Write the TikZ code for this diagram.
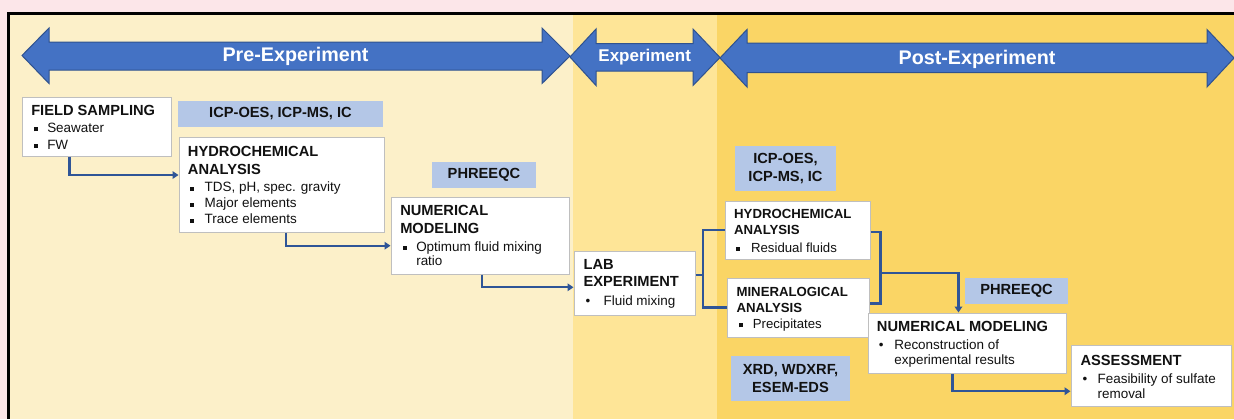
\documentclass[tikz,border=0pt]{standalone}
\usepackage{fontspec}
\setmainfont{Liberation Sans}
\usetikzlibrary{arrows.meta,fit,calc}
\definecolor{pinkbg}{HTML}{FCE6E9}
\definecolor{prec}{HTML}{FCF0C9}
\definecolor{expc}{HTML}{FEE597}
\definecolor{postc}{HTML}{FAD565}
\definecolor{arrfill}{HTML}{4472C4}
\definecolor{arrline}{HTML}{2F528F}
\definecolor{lblc}{HTML}{B4C7E7}
\definecolor{connc}{HTML}{2F5597}
\definecolor{boxline}{HTML}{BFBFBF}
\definecolor{txtc}{HTML}{111111}
\newcommand\ttl{\fontsize{11}{13}\selectfont\bfseries}
\newcommand\ttls{\fontsize{9.9}{12}\selectfont\bfseries}
\newcommand\bdy{\fontsize{10.1}{12}\selectfont}
\newcommand\bdys{\fontsize{9.9}{12}\selectfont}
\newcommand\sqb[1][12pt]{\makebox[#1][l]{\hspace{1.7pt}\rule[1.1pt]{3pt}{3pt}}}
\newcommand\rdb[1][13pt]{\makebox[#1][l]{\hspace{1.5pt}•}}
\tikzset{
  panel/.style={draw=none},
  bigarrow/.style={fill=arrfill, draw=arrline, line width=0.75pt, line join=miter},
  arrtxt/.style={text=white, font=\fontsize{14.8}{16}\selectfont\bfseries, inner sep=0},
  wbox/.style={draw=boxline, fill=white, line width=0.75pt, inner sep=0},
  lbox/.style={fill=lblc, inner sep=0, text=txtc, font=\fontsize{11}{13.5}\selectfont\bfseries, align=center},
  txt/.style={anchor=north west, inner sep=0, align=left, text=txtc, font=\bdy},
  conn/.style={draw=connc, line width=1.7pt, -{Triangle[length=4.5pt,width=5.7pt]}},
  connplain/.style={draw=connc, line width=1.7pt},
}
\begin{document}
\begin{tikzpicture}[x=0.75pt,y=-0.75pt]
\useasboundingbox (0,0) rectangle (1234,419);
% background and panels
\fill[pinkbg] (0,0) rectangle (1234,419);
\fill[prec] (10,14) rectangle (573,419);
\fill[expc] (573,14) rectangle (717,419);
\fill[postc] (717,14) rectangle (1234,419);
\draw[black, line width=2pt] (8.7,419) -- (8.7,13.3) -- (1234,13.3);
% phase arrows
\path[bigarrow] (22,55.5) -- (49,28) -- (49,42) -- (542,42) -- (542,28) -- (570,56)
  -- (542,83.5) -- (542,70) -- (49,70) -- (49,83.5) -- cycle;
\path[bigarrow] (570,57) -- (596,29) -- (596,43.5) -- (693,43.5) -- (693,29) -- (720,57.5)
  -- (693,85.5) -- (693,71) -- (596,71) -- (596,85.5) -- cycle;
\path[bigarrow] (720,58) -- (747,29.5) -- (747,43) -- (1207,43) -- (1207,29.5) -- (1234,58)
  -- (1207,87) -- (1207,72.5) -- (747,72.5) -- (747,87) -- cycle;
\node[arrtxt] (prel) at (295.5,56) {Pre-Experiment};
\node[arrtxt, font=\fontsize{12.75}{14}\selectfont\bfseries] (expl) at (644.7,57.5) {Experiment};
\node[arrtxt] (postl) at (977,59) {Post-Experiment};
% method labels
\node[lbox, fit={(178,101) (383,127)}] (l1) {};
\node[lbox] (l1t) at (l1.center) {ICP-OES, ICP-MS, IC};
\node[lbox, fit={(432,162) (536,188)}] (l2) {};
\node[lbox] (l2t) at (l2.center) {PHREEQC};
\node[lbox, fit={(735,146) (836,191)}] (l3) {};
\node[lbox] (l3t) at (l3.center) {ICP-OES,\\[0.2pt]ICP-MS, IC};
\node[lbox, fit={(965,278) (1068,304)}] (l4) {};
\node[lbox] (l4t) at (l4.center) {PHREEQC};
\node[lbox, fit={(731,356) (850,401)}] (l5) {};
\node[lbox] (l5t) at (l5.center) {XRD, WDXRF,\\[0.2pt]ESEM-EDS};
% white boxes
\node[wbox, fit={(22,97) (171,156)}] (fs) {};
\node[wbox, fit={(179,137) (384,232)}] (h1) {};
\node[wbox, fit={(391,197) (569,274)}] (n1) {};
\node[wbox, fit={(574,251) (695,315)}] (lab) {};
\node[wbox, fit={(725,201) (870,259)}] (h2) {};
\node[wbox, fit={(727,278) (869,337)}] (mn) {};
\node[wbox, fit={(868,313) (1066,373)}] (n2) {};
\node[wbox, fit={(1071,345) (1231,406)}] (as) {};
% box texts
\node[txt] (fst) at (31,105.4) {{\ttl FIELD SAMPLING}\\[0.75pt]\sqb Seawater\\[0.2pt]\sqb FW};
\node[txt] (h1t) at (187.7,146.4) {{\ttl HYDROCHEMICAL}\\[1pt]{\ttl ANALYSIS}\\[1.3pt]\sqb[12.5pt]TDS, pH, spec. gravity\\\sqb[12.5pt]Major elements\\\sqb[12.5pt]Trace elements};
\node[txt] (n1t) at (400,204.7) {{\ttl NUMERICAL}\\[1.7pt]{\ttl MODELING}\\[1.3pt]\sqb Optimum fluid mixing\\[-1pt]\hspace*{12pt}ratio};
\node[txt] (labt) at (583.3,259) {{\ttl LAB}\\[1pt]{\ttl EXPERIMENT}\\[2.25pt]\rdb[15pt]Fluid mixing};
\node[txt, font=\bdys] (h2t) at (733.9,209.3) {{\ttls HYDROCHEMICAL}\\{\ttls ANALYSIS}\\[1pt]\sqb[12.7pt]Residual fluids};
\node[txt, font=\bdys] (mnt) at (736.3,287) {{\ttls MINERALOGICAL}\\{\ttls ANALYSIS}\\[0.2pt]\sqb[12.2pt]Precipitates};
\node[txt] (n2t) at (876.7,321.4) {{\ttl NUMERICAL MODELING}\\[1.2pt]\rdb Reconstruction of\\[-0.75pt]\hspace*{13pt}experimental results};
\node[txt] (ast) at (1080.3,354.7) {{\ttl ASSESSMENT}\\[1.7pt]\rdb[12.75pt]Feasibility of sulfate\\[-0.75pt]\hspace*{12.75pt}removal};
% connectors
\draw[conn] ([xshift=36pt]fs.south west) |- ([yshift=7.1pt]h1.west);
\draw[conn] ([xshift=80.8pt]h1.south west) |- ([yshift=-7.65pt]n1.west);
\draw[conn] ([xshift=68.8pt]n1.south west) |- ([yshift=-3.2pt]lab.west);
\coordinate (bL) at (702.7,275);
\draw[connplain] (lab.east |- bL) -- (bL);
\draw[connplain] (h2.west) -| (bL) |- (mn.west);
\coordinate (bR) at (880.5,272.7);
\draw[connplain] ([yshift=-1.3pt]h2.east) -| (bR) |- ([yshift=3pt]mn.east);
\draw[conn] (bR) -| ([xshift=-6.4pt]n2.north);
\draw[conn] ([xshift=-10.9pt]n2.south) |- ([yshift=-11.8pt]as.west);
\end{tikzpicture}
\end{document}
